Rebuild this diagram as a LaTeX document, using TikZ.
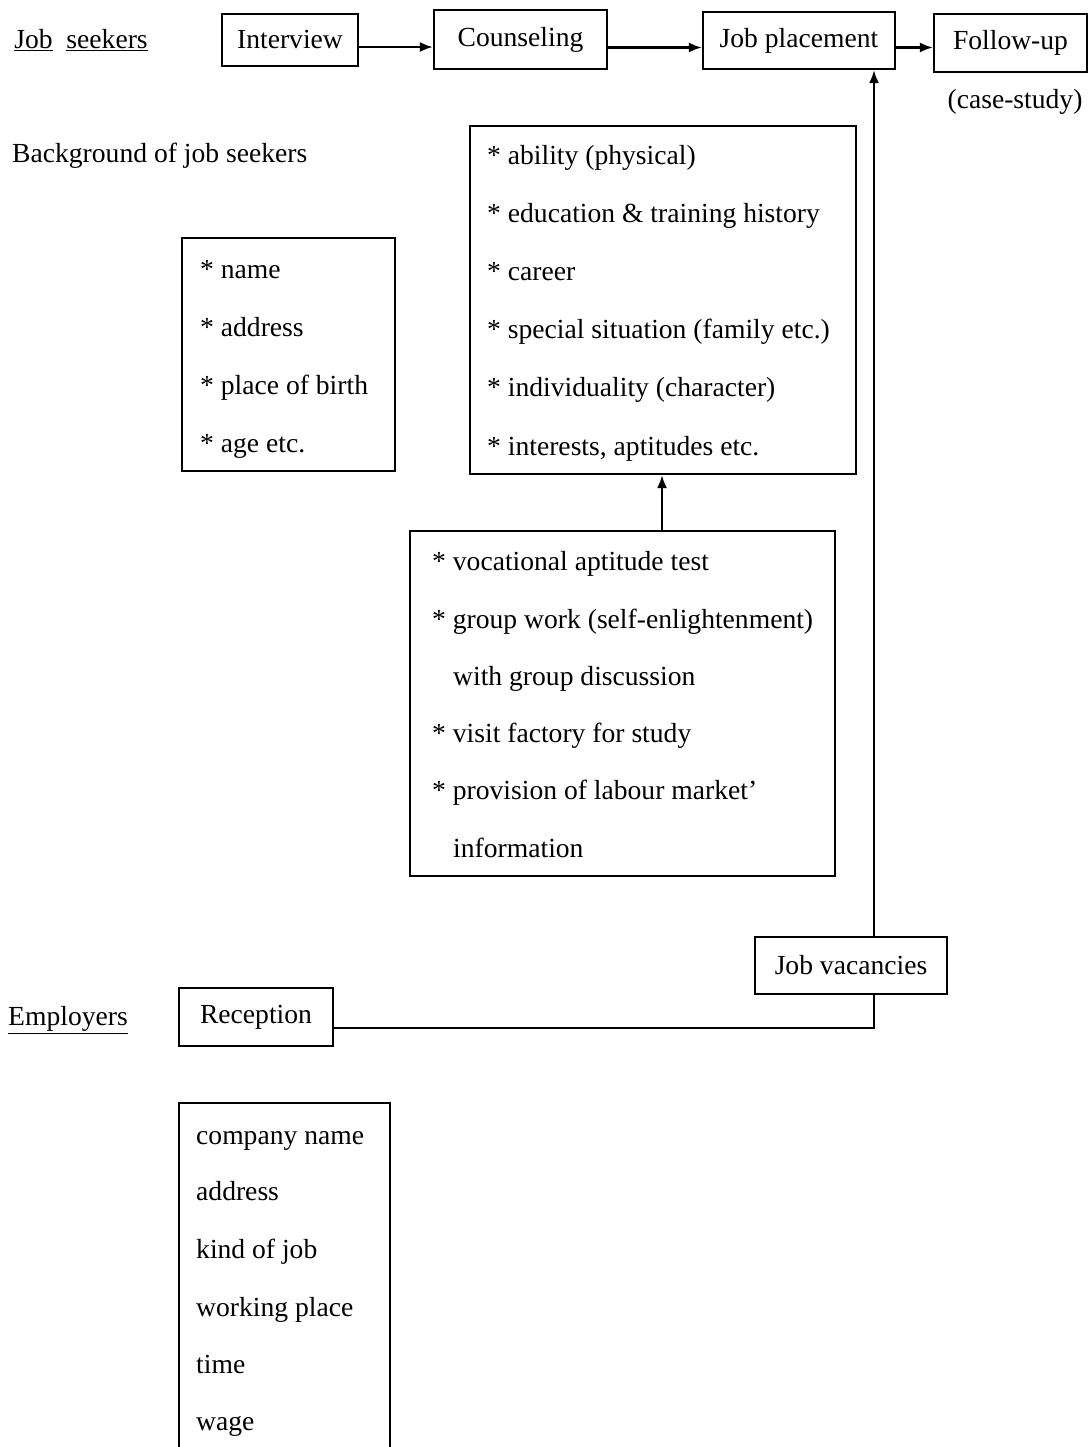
\documentclass[tikz,border=0pt]{standalone}
\usepackage{fontspec}
\setmainfont{Liberation Serif}
\usetikzlibrary{arrows.meta}
\begin{document}
\begin{tikzpicture}[x=1pt,y=-1pt,
  lbl/.style={font=\fontsize{27.6}{34}\selectfont, inner sep=0pt},
  box/.style={draw, line width=2.2pt, inner sep=0pt},
  item/.style={lbl, anchor=base west},
  arr/.style={line width=2.2pt, -{Latex[length=13pt,width=10pt]}},
  ln/.style={line width=2.2pt}]
\useasboundingbox[fill=white] (0,0) rectangle (1089,1447);

% top row
\node[lbl] (js) at (81,40) {\underline{Job}\ \ \underline{seekers}};
\node[box,lbl,minimum width=136pt,minimum height=52pt] (int) at (290,40) {Interview};
\node[box,lbl,minimum width=173pt,minimum height=59pt] (cou) at (520.5,39.5) {Counseling\vphantom{J}};
\node[box,lbl,minimum width=192pt,minimum height=57pt] (jp) at (799,40.5) {Job placement};
\node[box,lbl,minimum width=153pt,minimum height=58pt] (fu) at (1010.5,43) {Follow-up};
\node[lbl] (cs) at (1015,102) {(case-study)};

\coordinate (a1) at ([yshift=-7pt]int.east);
\draw[arr] (a1) -- (a1 -| cou.west);
\coordinate (a2) at ([yshift=-8pt]cou.east);
\draw[arr] (a2) -- (a2 -| jp.west);
\coordinate (a3) at ([yshift=-7pt]jp.east);
\draw[arr] (a3) -- (a3 -| fu.west);

% background
\node[item] (bg) at (12,163) {Background of job seekers};

% name box
\node[box,minimum width=213pt,minimum height=233pt] (nb) at (288.5,354.5) {};
\node[item] (n1) at (200,278) {* name};
\node[item] (n2) at (200,336) {* address};
\node[item] (n3) at (200,394) {* place of birth};
\node[item] (n4) at (200,452) {* age etc.};

% big box
\node[box,minimum width=386pt,minimum height=348pt] (bb) at (663,300) {};
\node[item] (b1) at (487,165) {* ability (physical)};
\node[item] (b2) at (487,222.5) {* education \& training history};
\node[item] (b3) at (487,280) {* career};
\node[item] (b4) at (487,338) {* special situation (family etc.)};
\node[item] (b5) at (487,396) {* individuality (character)};
\node[item] (b6) at (487,455) {* interests, aptitudes etc.};

% lower box
\node[box,minimum width=425pt,minimum height=345pt] (lb) at (622.5,703.5) {};
\node[item] (l1) at (432,570) {* vocational aptitude test};
\node[item] (l2) at (432,628) {* group work (self-enlightenment)};
\node[item] (l3) at (453,685) {with group discussion};
\node[item] (l4) at (432,742) {* visit factory for study};
\node[item] (l5) at (432,799) {* provision of labour market'};
\node[item] (l6) at (453,857) {information};

\coordinate (ax) at (662,0);
\draw[arr] (lb.north -| ax) -- (bb.south -| ax);

% employers
\node[lbl] (em) at (68,1020) {\underline{Employers}};
\node[box,lbl,minimum width=154pt,minimum height=58pt] (rec) at (256,1017) {Reception};
\node[box,lbl,minimum width=192pt,minimum height=57pt] (jv) at (851,965.5) {Job vacancies};

\coordinate (vx) at (874,0);
\draw[arr] (jv.north -| vx) -- (jp.south -| vx);
\coordinate (r1) at ([yshift=-11pt]rec.east);
\draw[ln] (r1) -| (jv.south -| vx);

% bottom box
\node[box,minimum width=211pt,minimum height=352pt] (eb) at (284.5,1279) {};
\node[item] (e1) at (196,1144) {company name};
\node[item] (e2) at (196,1200) {address};
\node[item] (e3) at (196,1258) {kind of job};
\node[item] (e4) at (196,1316) {working place};
\node[item] (e5) at (196,1373) {time};
\node[item] (e6) at (196,1430) {wage};
\end{tikzpicture}
\end{document}
